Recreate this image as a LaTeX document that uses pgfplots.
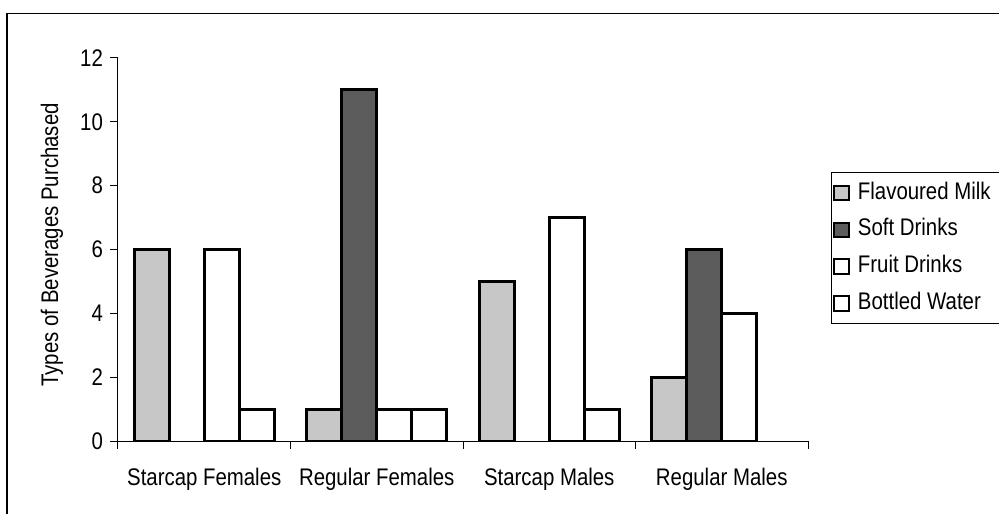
\documentclass[border=0pt]{standalone}
\usepackage{pgfplots}
\pgfplotsset{compat=1.18}
\usepackage{fontspec}
\setmainfont{Liberation Sans}[FakeStretch=0.85]
\definecolor{milk}{gray}{0.78}
\definecolor{soft}{gray}{0.36}
\begin{document}
\begin{tikzpicture}
\path[use as bounding box] (0,0) rectangle (499.5pt,257pt);
\draw[line width=0.6pt] (3.5pt,0) -- (3.5pt,250.25pt) -- (499.5pt,250.25pt);
\begin{axis}[
  at={(59pt,36.5pt)}, anchor=south west,
  scale only axis, width=345pt, height=191.5pt,
  xmin=-0.5, xmax=3.5, ymin=0, ymax=12,
  axis lines*=left,
  axis line style={line width=0.5pt},
  ybar=0pt, bar width=17.5pt,
  xtick={0,1,2,3},
  xticklabels={Starcap Females, Regular Females, Starcap Males, Regular Males},
  minor xtick={-0.5,0.5,1.5,2.5,3.5},
  major x tick style={draw=none},
  ytick={0,2,4,6,8,10,12},
  tick align=outside,
  major tick length=4pt, minor tick length=4pt,
  tick style={black, line width=0.5pt},
  /pgf/number format/assume math mode=true,
  tick label style={font=\fontsize{12}{14}\selectfont},
  xticklabel style={yshift=-6pt},
  ylabel={Types of Beverages Purchased},
  every axis y label/.style={at={(axis description cs:-0.0956,0.512)}, rotate=90, anchor=center,
    font=\fontsize{12}{14}\selectfont},
  legend style={at={(1.0333,0.7023)}, anchor=north west, draw=black, line width=0.5pt,
    font=\fontsize{12}{14}\selectfont, inner sep=1pt,
    nodes={inner ysep=3.6pt, text height=8.7pt, text depth=2.5pt}},
  legend cell align=left,
  legend image code/.code={\draw[#1, line width=1pt] (1.5pt,-3.6pt) rectangle (8.7pt,3.6pt); \path (10.5pt,0pt);},
  every axis plot/.append style={draw=black, line width=1.5pt},
]
\addplot[fill=milk] coordinates {(0,6) (1,1) (2,5) (3,2)};
\addplot[fill=soft] coordinates {(1,11) (3,6)};
\addplot[fill=white] coordinates {(0,6) (1,1) (2,7) (3,4)};
\addplot[fill=white] coordinates {(0,1) (1,1) (2,1)};
\legend{\makebox[75pt][l]{Flavoured Milk}, Soft Drinks, Fruit Drinks, Bottled Water}
\end{axis}
\end{tikzpicture}
\end{document}
